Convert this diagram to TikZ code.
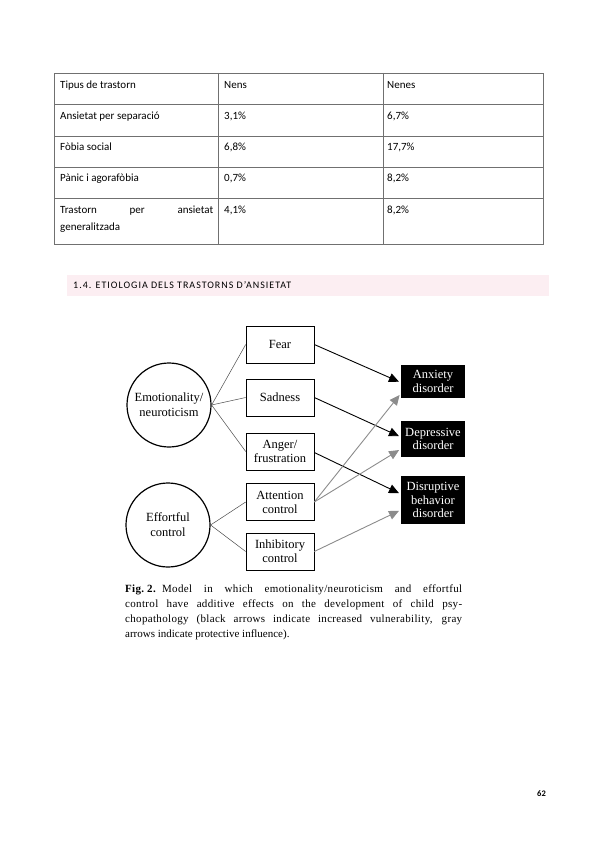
\documentclass[tikz,border=0pt]{standalone}
\usepackage{fontspec}
\setmainfont{Liberation Serif}
\newfontfamily\tabfont{Carlito}
\newfontfamily\headfont[LetterSpace=10]{Carlito}
\newfontfamily\capfont[LetterSpace=3]{Liberation Serif}
\usetikzlibrary{arrows.meta,positioning}
\definecolor{headpink}{HTML}{FCEEF2}
\definecolor{tabline}{HTML}{707070}
\begin{document}
\begin{tikzpicture}[x=1pt,y=-1pt,
  tabtext/.style={anchor=base west,inner sep=0pt,font=\tabfont\fontsize{11}{12}\selectfont},
  tabrule/.style={draw=tabline,line width=0.7pt},
  factor/.style={draw,line width=0.6pt,minimum width=68pt,minimum height=37pt,inner sep=1pt,align=center,font=\fontsize{12.5}{14}\selectfont},
  disorder/.style={fill=black,text=white,minimum width=64pt,inner sep=0pt,align=center,font=\fontsize{12.5}{13.5}\selectfont},
  trait/.style={circle,draw,line width=1.2pt,minimum size=84pt,inner sep=0pt,align=center,font=\fontsize{12.5}{15}\selectfont},
  link/.style={draw=black!70,line width=0.5pt},
  risk/.style={draw=black,line width=0.9pt,-{Triangle[length=10pt,width=9pt]},shorten >=2pt},
  protect/.style={draw=black!45,line width=0.9pt,-{Triangle[length=10pt,width=9pt]},shorten >=2pt},
  captext/.style={anchor=base west,inner sep=0pt,font=\capfont\fontsize{11}{15}\selectfont},
  caplast/.style={anchor=base west,inner sep=0pt,font=\fontsize{11}{15}\selectfont}
]
\useasboundingbox[fill=white] (0,0) rectangle (599,848);

% ---------- table ----------
\path[tabrule] (54,73) rectangle (543,244);
\foreach \yy in {104,136,167,198} \path[tabrule] (54,\yy) -- (543,\yy);
\path[tabrule] (218,73) -- (218,244);
\path[tabrule] (383,73) -- (383,244);

\node[tabtext] (h1) at (60,89) {Tipus de trastorn};
\node[tabtext] (h2) at (224,89) {Nens};
\node[tabtext] (h3) at (387,89) {Nenes};
\node[tabtext] (r1a) at (60,120) {Ansietat per separació};
\node[tabtext] (r1b) at (224,120) {3,1\%};
\node[tabtext] (r1c) at (387,120) {6,7\%};
\node[tabtext] (r2a) at (60,150) {Fòbia social};
\node[tabtext] (r2b) at (224,150) {6,8\%};
\node[tabtext] (r2c) at (387,150) {17,7\%};
\node[tabtext] (r3a) at (60,181) {Pànic i agorafòbia};
\node[tabtext] (r3b) at (224,181) {0,7\%};
\node[tabtext] (r3c) at (387,181) {8,2\%};
\node[tabtext] (r4a) at (60,213) {\makebox[153pt][s]{Trastorn per ansietat}};
\node[tabtext] (r4a2) at (60,230) {generalitzada};
\node[tabtext] (r4b) at (224,213) {4,1\%};
\node[tabtext] (r4c) at (387,213) {8,2\%};

% ---------- heading ----------
\fill[headpink] (67,275) rectangle (549,296);
\node[anchor=west,inner sep=0pt,font=\headfont\fontsize{10}{12}\selectfont] (head) at (73,285.5) {1.4. ETIOLOGIA DELS TRASTORNS D’ANSIETAT};

% ---------- diagram ----------
\node[trait] (emo) at (169,405) {Emotionality/\\neuroticism};
\node[trait] (eff) at (168,525) {Effortful\\control};

\node[factor] (fear) at (280,344.5) {Fear};
\node[factor] (sad) at (280,397.5) {Sadness};
\node[factor] (ang) at (280,451.5) {Anger/\\frustration};
\node[factor] (att) at (280,502) {Attention\\control};
\node[factor] (inh) at (280,551.5) {Inhibitory\\control};

\node[disorder,minimum height=33pt] (anx) at (433,381.5) {Anxiety\\disorder};
\node[disorder,minimum height=36pt] (dep) at (433,439) {Depressive\\disorder};
\node[disorder,minimum height=48pt] (dis) at (433,500) {Disruptive\\behavior\\disorder};

\path[link] (emo.east) -- (fear.west);
\path[link] (emo.east) -- (sad.west);
\path[link] (emo.east) -- (ang.west);
\path[link] (eff.east) -- (att.west);
\path[link] (eff.east) -- (inh.west);

\path[risk] (fear.east) -- ([yshift=-1pt]anx.west);
\path[risk] (sad.east) -- ([yshift=2pt]dep.west);
\path[risk] ([yshift=-1pt]ang.east) -- ([yshift=6pt]dis.west);

\path[protect] (att.east) -- ([yshift=-12pt]anx.west);
\path[protect] (att.east) -- ([yshift=-10pt]dep.west);
\path[protect] (inh.east) -- ([yshift=-10pt]dis.west);

% ---------- caption ----------
\node[captext] (cap1) at (125,592) {\makebox[337pt][s]{\textbf{Fig.\hspace{3pt}2.}\hspace{6pt}Model in which emotionality/neuroticism and effortful}};
\node[captext] (cap2) at (125,607.3) {\makebox[337pt][s]{control have additive effects on the development of child psy-}};
\node[captext] (cap3) at (125,622.6) {\makebox[337pt][s]{chopathology (black arrows indicate increased vulnerability, gray}};
\node[caplast] (cap4) at (125,637.9) {arrows indicate protective influence).};

% ---------- page number ----------
\node[inner sep=0pt,font=\tabfont\bfseries\fontsize{8.5}{10}\selectfont] (pnum) at (541.5,794) {62};
\end{tikzpicture}
\end{document}
